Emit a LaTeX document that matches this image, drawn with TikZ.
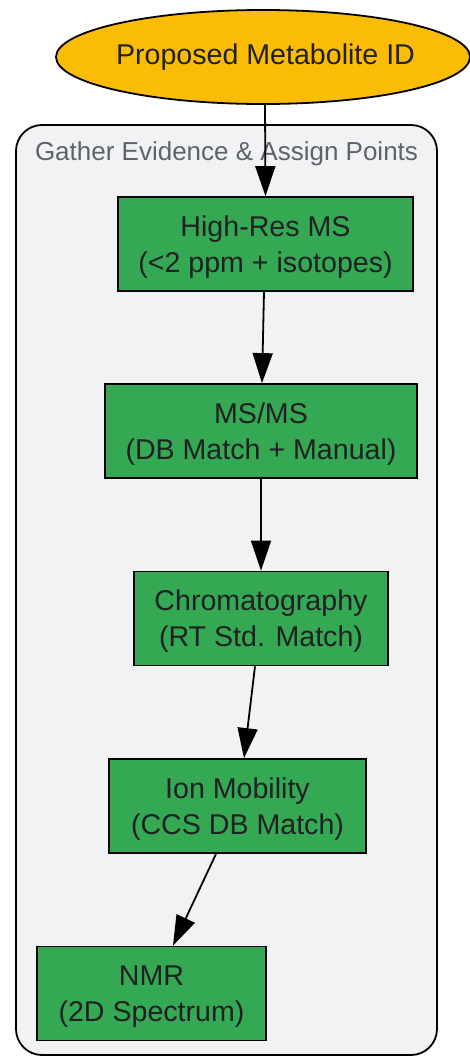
\documentclass[tikz,border=0pt]{standalone}
\usepackage{fontspec}
\setmainfont{Liberation Sans}
\usetikzlibrary{arrows.meta,shapes.geometric}
\definecolor{gold}{HTML}{FBBC05}
\definecolor{grn}{HTML}{34A853}
\definecolor{clus}{HTML}{F1F2F4}
\definecolor{txt}{HTML}{202124}
\definecolor{lbl}{HTML}{5F6368}
\begin{document}
\begin{tikzpicture}[x=1pt,y=-1pt,
  stepbox/.style={draw=black, line width=1.8pt, fill=grn, text=txt,
    font=\fontsize{28.6}{36}\selectfont, align=center, inner sep=0pt, minimum height=94pt,
    text height=60pt, text depth=4pt},
  conn/.style={-{Triangle[length=30pt,width=20pt]}, line width=1.8pt}]
\useasboundingbox (0,0) rectangle (470,1057);
\draw[fill=clus, line width=1.8pt, rounded corners=26pt] (16,125) rectangle (437,1055);
\node[text=lbl, font=\fontsize{26}{30}\selectfont, anchor=base] (lab) at (226.5,160) {Gather Evidence \& Assign Points};
\node[ellipse, draw=black, line width=1.8pt, fill=gold, text=txt, minimum width=414pt, minimum height=94pt,
  inner sep=0pt, font=\fontsize{28.6}{34}\selectfont] (pm) at (263,57) {\makebox[0pt]{\hspace*{5pt}Proposed Metabolite ID}};
\node[stepbox, minimum width=295pt] (b1) at (265.5,244) {High-Res MS\\(<2 ppm + isotopes)};
\node[stepbox, minimum width=312pt] (b2) at (261,431) {MS/MS\\(DB Match + Manual)};
\node[stepbox, minimum width=254pt] (b3) at (261,618.5) {Chromatography\\(RT Std. Match)};
\node[stepbox, minimum width=257pt] (b4) at (237.5,806) {Ion Mobility\\(CCS DB Match)};
\node[stepbox, minimum width=229pt] (b5) at (151.5,993.5) {NMR\\(2D Spectrum)};
\draw[conn] ([xshift=2pt]pm.south) -- (b1.north);
\draw[conn] ([xshift=-1.5pt]b1.south) -- ([xshift=1pt]b2.north);
\draw[conn] (b2.south) -- (b3.north);
\draw[conn] ([xshift=-6pt]b3.south) -- ([xshift=6.5pt]b4.north);
\draw[conn] ([xshift=-21.5pt]b4.south) -- ([xshift=21.5pt]b5.north);
\end{tikzpicture}
\end{document}
